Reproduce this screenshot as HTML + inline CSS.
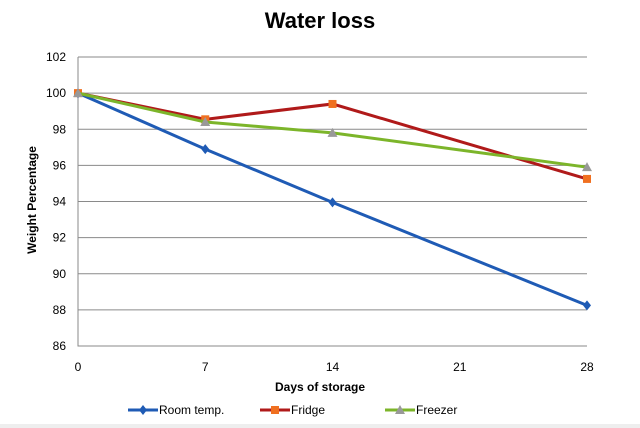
<!DOCTYPE html>
<html><head><meta charset="utf-8"><style>
body{margin:0;background:#fff}
svg{display:block;font-family:"Liberation Sans",sans-serif}
</style></head><body>
<svg width="640" height="428" viewBox="0 0 640 428">
<rect width="640" height="428" fill="#fff"/>
<text x="320" y="28" text-anchor="middle" font-size="22" font-weight="bold">Water loss</text>
<g id="grid"></g>
<g id="axes"></g>
<g id="series"></g>
<text x="320" y="391" text-anchor="middle" font-size="12" font-weight="bold">Days of storage</text>
<text transform="translate(36,200) rotate(-90)" text-anchor="middle" font-size="12" font-weight="bold">Weight Percentage</text>
<g id="legend"></g>
<rect x="0" y="424" width="640" height="4" fill="#eee"/>
</svg>
<script>
const days=[0,7,14,28];
const xTicks=[0,7,14,21,28];
const yTicks=[86,88,90,92,94,96,98,100,102];
const roomTemp=[100,96.9,93.95,88.25];
const fridge=[100,98.55,99.4,95.25];
const freezer=[100,98.4,97.8,95.9];
const seriesNames=["Room temp.","Fridge","Freezer"];
const NS="http://www.w3.org/2000/svg";
const X=d=>78+(d-0)/28*509;
const Y=v=>346-(v-86)/16*289;
function mk(t,a,p){const e=document.createElementNS(NS,t);for(const k in a)e.setAttribute(k,a[k]);p.appendChild(e);return e;}
const grid=document.getElementById('grid'),axes=document.getElementById('axes'),ser=document.getElementById('series'),leg=document.getElementById('legend');
yTicks.forEach(v=>{
 if(v>86){const l=mk('line',{x1:78,x2:587,y1:Y(v),y2:Y(v),stroke:'#8a8a8a','stroke-width':1},grid);
 
 }
 const t=mk('text',{x:66,y:Y(v)+4,'text-anchor':'end','font-size':12},axes);t.textContent=v;
 
 
});
xTicks.forEach(d=>{const t=mk('text',{x:X(d),y:371,'text-anchor':'middle','font-size':12},axes);t.textContent=d;
 
 });
const ax=mk('path',{d:`M78 ${Y(102)} V346 H587`,fill:'none',stroke:'#8a8a8a','stroke-width':1},axes);


function marker(type,x,y,c,p){
 if(type==='d')return mk('path',{d:`M${x} ${y-5}L${x+4} ${y}L${x} ${y+5}L${x-4} ${y}Z`,fill:c},p);
 if(type==='s')return mk('rect',{x:x-4,y:y-4,width:8,height:8,fill:c},p);
 return mk('path',{d:`M${x} ${y-5}L${x+5} ${y+4}L${x-5} ${y+4}Z`,fill:c},p);
}
const defs=[[roomTemp,'#1f5bb5','#1f5bb5','d','room-temp'],[fridge,'#b01a1a','#f07020','s','fridge'],[freezer,'#7cb52a','#999','t','freezer']];
defs.forEach(([vals,lc,mc,mt,nm])=>{
 const g=mk('g',{},ser);
 
 
 const pl=mk('polyline',{points:vals.map((v,i)=>X(days[i])+','+Y(v)).join(' '),fill:'none',stroke:lc,'stroke-width':3},g);
 
 
 vals.forEach((v,i)=>{const m=marker(mt,X(days[i]),Y(v),mc,g);
  
  });
});
const lx=[128,260,385];
defs.forEach(([v,lc,mc,mt,nm],i)=>{
 const g=mk('g',{},leg);
 
 
 mk('line',{x1:lx[i],x2:lx[i]+30,y1:410,y2:410,stroke:lc,'stroke-width':3},g);
 marker(mt,lx[i]+15,410,mc,g);
 const t=mk('text',{x:lx[i]+31,y:414,'font-size':12},g);t.textContent=seriesNames[i];
});
</script>
</body></html>
